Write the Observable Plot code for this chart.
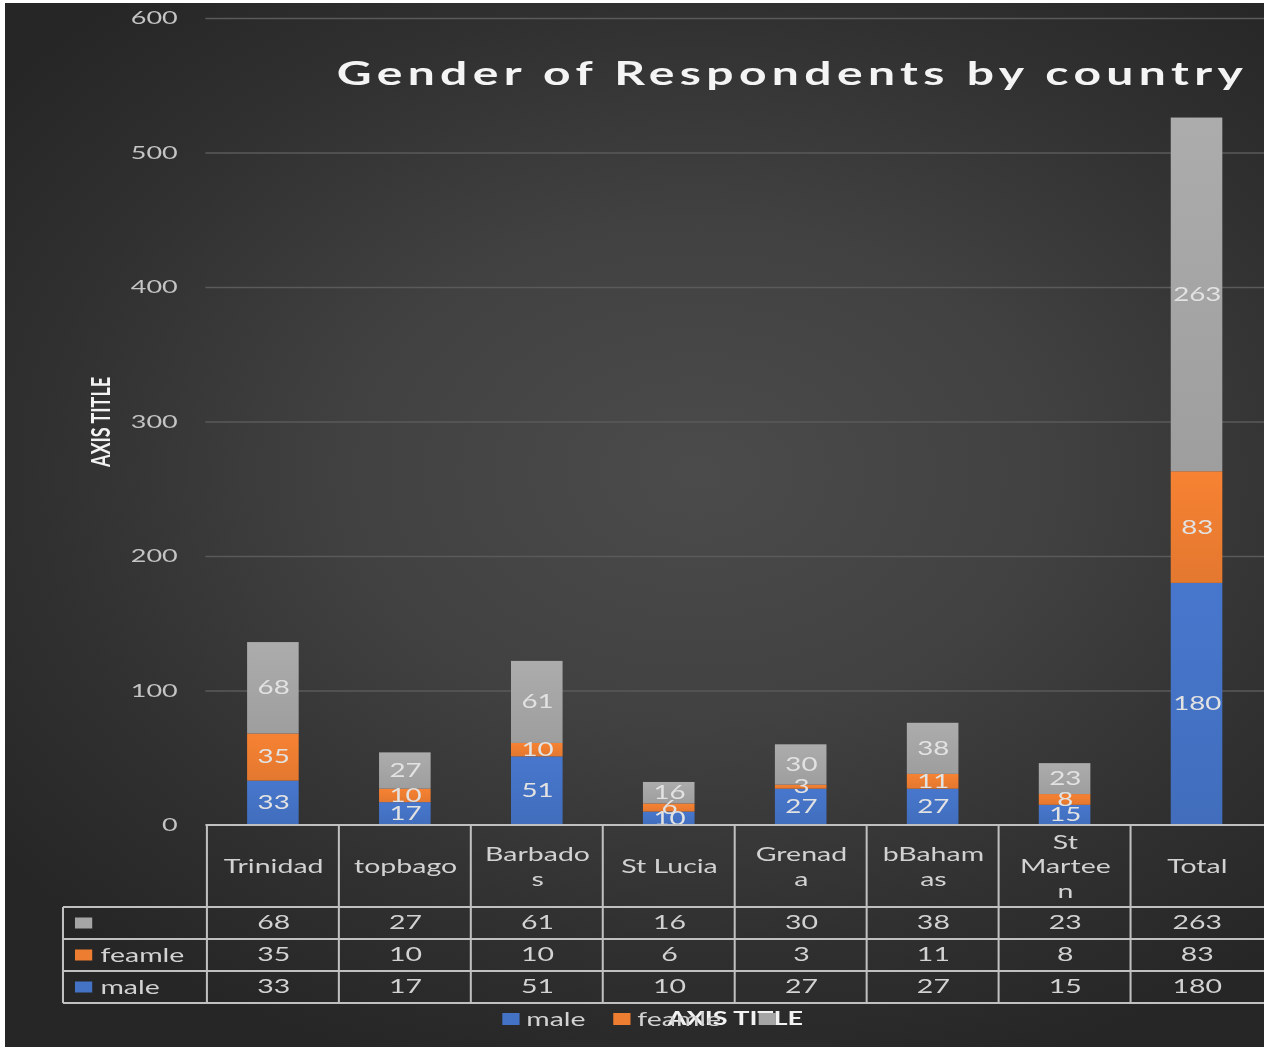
<!DOCTYPE html>
<html>
<head>
<meta charset="utf-8">
<script src="https://cdn.jsdelivr.net/npm/d3@7"></script>
<script src="https://cdn.jsdelivr.net/npm/@observablehq/plot@0.6"></script>
<style>
  html, body { margin: 0; padding: 0; background: #fff; }
  #stage { position: relative; width: 1264px; height: 1049px; overflow: hidden; }
  #panel {
    position: absolute; left: 5px; top: 3px; right: 0; bottom: 2px;
    background: radial-gradient(ellipse 70% 60% at 55% 45%, #4b4b4b 0%, #414141 40%, #303030 75%, #262626 100%);
  }
  /* the chart is laid out narrow and stretched sideways, like the sheet it comes from */
  #chart { position: absolute; left: 0; top: 0; transform-origin: 0 0; }
</style>
</head>
<body>
<div id="stage"><div id="panel"></div><div id="chart"></div></div>
<script>
// ---- data ----
const countries = ["Trinidad", "topbago", "Barbados", "St Lucia", "Grenada", "bBahamas", "St Marteen", "Total"];
const countryLabels = ["Trinidad", "topbago", "Barbado\ns", "St Lucia", "Grenad\na", "bBaham\nas", "St\nMartee\nn", "Total"];
const seriesNames = ["male", "feamle", ""];
const male = [33, 17, 51, 10, 27, 27, 15, 180];
const feamle = [35, 10, 10, 6, 3, 11, 8, 83];
const unnamed = [68, 27, 61, 16, 30, 38, 23, 263];
const seriesColors = ["#4472C4", "#ED7D31", "#A5A5A5"];
const yTicks = [0, 100, 200, 300, 400, 500, 600];
const chartTitle = "Gender of Respondents by country";
const axisTitle = "AXIS TITLE";

// ---- layout ----
const W = 843, H = 1049, STRETCH = 1264 / W;
const HEADER_H = 82, ROW_H = 32;
const tableOrder = [2, 1, 0]; // series rows of the data table, top to bottom
const FONT = "Lato, 'Open Sans', sans-serif";
const TEXT = "#d2d2d2";

const seriesValues = [male, feamle, unnamed];
const rows = countries.flatMap((country, i) =>
  seriesNames.map((series, j) => ({country, series, value: seriesValues[j][i]})));

// soft vertical shading on each bar segment
function gradientDefs() {
  const defs = d3.create("svg:defs");
  seriesColors.forEach((c, j) => {
    const g = defs.append("linearGradient")
      .attr("id", `seg-${j}`).attr("x1", 0).attr("y1", 0).attr("x2", 0).attr("y2", 1);
    g.append("stop").attr("offset", "0%").attr("stop-color", d3.color(c).brighter(0.12).formatHex());
    g.append("stop").attr("offset", "100%").attr("stop-color", d3.color(c).darker(0.12).formatHex());
  });
  return defs.node();
}

// grid lines of the data table plus its series key column
function dataTableFrame(index, {x, y}, values, {width, marginLeft}) {
  const top = y(0);
  const legendLeft = marginLeft - 95;
  const bottom = top + HEADER_H + ROW_H * tableOrder.length;
  const g = d3.create("svg:g");
  const lines = g.append("g").attr("stroke", "#c0c0c0").attr("fill", "none");
  lines.append("line").attr("x1", marginLeft).attr("x2", width)
    .attr("y1", top).attr("y2", top).attr("stroke-width", 2);
  for (let k = 0; k <= tableOrder.length; ++k) {
    const yy = top + HEADER_H + ROW_H * k;
    lines.append("line").attr("x1", legendLeft).attr("x2", width)
      .attr("y1", yy).attr("y2", yy).attr("stroke-width", 2);
  }
  countries.forEach(c => {
    const xx = x(c);
    lines.append("line").attr("x1", xx).attr("x2", xx)
      .attr("y1", top).attr("y2", bottom).attr("stroke-width", 1.35);
  });
  lines.append("line").attr("x1", legendLeft).attr("x2", legendLeft)
    .attr("y1", top + HEADER_H).attr("y2", bottom).attr("stroke-width", 1.35);
  tableOrder.forEach((j, k) => {
    const cy = top + HEADER_H + ROW_H * k + ROW_H / 2;
    g.append("rect").attr("x", legendLeft + 8).attr("y", cy - 5.5)
      .attr("width", 11.5).attr("height", 11).attr("fill", seriesColors[j]);
    g.append("text").attr("x", legendLeft + 25).attr("y", cy).attr("dy", "0.35em")
      .attr("text-anchor", "start").attr("fill", TEXT).attr("font-size", 19).text(seriesNames[j]);
  });
  return g.node();
}

// series key under the table
function seriesLegend(index, {y}, values, {width, marginLeft}) {
  const cx = (marginLeft + width) / 2, cy = y(0) + 194;
  const offsets = [-155, -81, 16];
  const g = d3.create("svg:g");
  seriesNames.forEach((name, j) => {
    g.append("rect").attr("x", cx + offsets[j]).attr("y", cy - 6)
      .attr("width", 11.5).attr("height", 12).attr("fill", seriesColors[j]);
    g.append("text").attr("x", cx + offsets[j] + 16).attr("y", cy).attr("dy", "0.35em")
      .attr("text-anchor", "start").attr("fill", TEXT).attr("font-size", 19).text(name);
  });
  return g.node();
}

const spaced = (px) => (index, scales, values, dims, context, next) => {
  const g = next(index, scales, values, dims, context);
  g.setAttribute("letter-spacing", `${px}px`);
  return g;
};

const chart = Plot.plot({
  width: W,
  height: H,
  marginLeft: 137,
  marginRight: 0,
  marginTop: 18,
  marginBottom: 224,
  style: {background: "transparent", color: "#c4c4c4", fontFamily: FONT, overflow: "visible"},
  x: {domain: countries, padding: 0, axis: null},
  y: {domain: [0, 600], axis: null},
  color: {domain: seriesNames, range: seriesNames.map((_, j) => `url(#seg-${j})`)},
  marks: [
    gradientDefs,
    Plot.gridY(yTicks.filter(t => t > 0), {stroke: "#5a5a5a", strokeOpacity: 1, strokeWidth: 1.5}),
    Plot.axisY(yTicks, {tickSize: 0, tickPadding: 19, fontSize: 18, label: null, fill: "#c4c4c4"}),
    Plot.barY(rows, {x: "country", y: "value", fill: "series", insetLeft: 26.8, insetRight: 26.8}),
    Plot.text(rows, Plot.stackY({
      x: "country", y: "value", z: "series", text: "value",
      fill: "#e2e2e2", fontSize: 18.5
    })),
    dataTableFrame,
    Plot.text(countries, {
      x: d => d, text: (d, i) => countryLabels[i],
      frameAnchor: "bottom", dy: HEADER_H / 2 - 1, lineAnchor: "middle", textAnchor: "middle",
      lineHeight: 1.3, fontSize: 19, fill: TEXT
    }),
    ...tableOrder.map((j, k) => Plot.text(countries, {
      x: d => d, text: (d, i) => String(seriesValues[j][i]),
      frameAnchor: "bottom", dy: HEADER_H + ROW_H * k + ROW_H / 2 - 1,
      lineAnchor: "middle", textAnchor: "middle", fontSize: 19, fill: TEXT
    })),
    Plot.text([chartTitle], {
      frameAnchor: "top", dx: 38, dy: 56, lineAnchor: "middle", textAnchor: "middle",
      fontSize: 32, fontWeight: 700, fill: "#f4f4f4", render: spaced(3.6)
    }),
    Plot.text([axisTitle], {
      frameAnchor: "left", dx: -70, rotate: -90, lineAnchor: "middle", textAnchor: "middle",
      fontSize: 18, fontWeight: 700, fill: "#f2f2f2"
    }),
    Plot.text([axisTitle], {
      frameAnchor: "bottom", dy: 194, lineAnchor: "middle", textAnchor: "middle",
      fontSize: 18, fontWeight: 700, fill: "#f2f2f2"
    }),
    seriesLegend
  ]
});

const holder = document.getElementById("chart");
holder.style.transform = `scaleX(${STRETCH})`;
holder.appendChild(chart);
</script>
</body>
</html>
